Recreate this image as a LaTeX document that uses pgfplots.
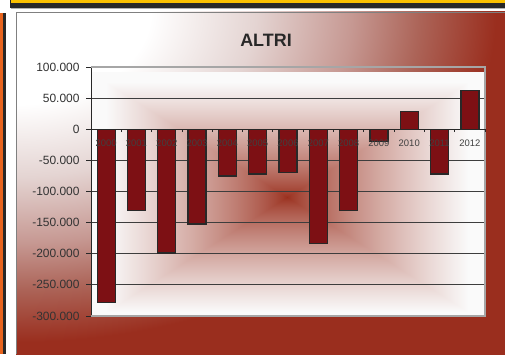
\documentclass[border=0pt]{standalone}
\usepackage{fontspec}
\setmainfont{Liberation Sans}
\usepackage{pgfplots}
\pgfplotsset{compat=1.18}

\definecolor{bgred}{RGB}{154,46,30}
\definecolor{barred}{RGB}{125,16,20}
\definecolor{bandyellow}{RGB}{250,192,0}
\definecolor{bandorange}{RGB}{232,100,30}
\definecolor{inkgray}{RGB}{40,40,40}

% chart background: white in the upper left corner, turning red outwards
% (the shaded path's half size corresponds to 25bp)
\pgfdeclareradialshading{chartglow}{\pgfpointorigin}{%
  color(0bp)=(white);
  color(3.5bp)=(white);
  color(6.25bp)=(rgb,255:red,228;green,212;blue,210);
  color(8.75bp)=(rgb,255:red,198;green,152;blue,146);
  color(10.5bp)=(rgb,255:red,172;green,100;blue,88);
  color(12.5bp)=(bgred);
  color(50bp)=(bgred)}

% plot area: rectangular glow, red in the middle, white at the edges
\pgfdeclarefunctionalshading{plotglow}{\pgfpoint{-50bp}{-50bp}}{\pgfpoint{50bp}{50bp}}{}{%
  abs exch abs
  2 copy sub abs add add 2 div
  25 div 0.92 div
  dup sqrt exch sqrt sqrt mul
  dup 1 sub abs neg add 1 add 2 div
  dup 0.38 mul 0.60 add exch
  dup 0.80 mul 0.18 add exch
  0.87 mul 0.11 add
}

\pgfplotsset{
  plotframe/.style={
    at={(91bp,38bp)}, anchor=south west,
    scale only axis, width=394bp, height=249bp,
    xmin=-0.5, xmax=12.5,
    ymin=-300000, ymax=100000,
    clip=false,
  },
}

\begin{document}
\begin{tikzpicture}[x=1bp,y=1bp]
  \useasboundingbox (0,0) rectangle (505,354);
  \fill[white] (0,0) rectangle (505,354);
  % page bands
  \fill[bandyellow] (11,354) rectangle (505,350.5);
  \fill[inkgray] (10,354) rectangle (11,350.5);
  \fill[inkgray] (10,350.5) rectangle (505,346);
  \draw[gray!60, line width=0.8bp] (11,345.3) -- (505,345.3);
  \fill[bandorange] (0,0) rectangle (2.5,341);
  \fill[inkgray] (2.5,0) rectangle (6,341);

  % chart area
  \begin{scope}
    \clip (16,0) rectangle (505,342);
    \shade[shading=chartglow] (-944,-318) rectangle (976,1002);
  \end{scope}
  \draw[gray, line width=0.8bp] (16.4,0) -- (16.4,341.6) -- (505,341.6);

  % plot area glow
  \begin{scope}
    \clip (91,38) rectangle (485,287);
    \shade[shading=plotglow] (90,32) rectangle (484,282);
  \end{scope}

  \node[font=\bfseries\fontsize{18}{18}\selectfont, text=inkgray] at (266,314) {ALTRI};

  % value axis, grid and bars
  \begin{axis}[
    plotframe,
    axis x line=none, axis y line*=left,
    axis line style={inkgray, line width=0.9bp},
    ytick={-300000,-250000,...,100000},
    scaled y ticks=false,
    yticklabel style={font=\fontsize{12}{12}\selectfont, text=black!80, xshift=-3bp,
      /pgf/number format/.cd, fixed, 1000 sep={.}, assume math mode=true},
    ytick align=outside,
    major tick length=5bp,
    y tick style={draw=inkgray, line width=0.8bp},
    ymajorgrids,
    grid style={inkgray!90, line width=0.8bp},
  ]
    \draw[gray!70, line width=1.6bp] (rel axis cs:0,0) -- (rel axis cs:1,0) -- (rel axis cs:1,1) -- (rel axis cs:0,1);
    \addplot[ybar, bar width=18bp, fill=barred, draw=inkgray, line width=1.3bp]
      coordinates {
        (0,-278000) (1,-131000) (2,-199000) (3,-152000) (4,-75000)
        (5,-72000) (6,-69000) (7,-184000) (8,-130000) (9,-20000)
        (10,29000) (11,-72000) (12,62000)
      };
  \end{axis}

  % category axis at zero, drawn over the bars
  \begin{axis}[
    plotframe,
    axis x line*=middle, axis y line=none,
    axis line style={inkgray, line width=0.9bp},
    xtick={0,...,12},
    xticklabels={2000,2001,2002,2003,2004,2005,2006,2007,2008,2009,2010,2011,2012},
    x tick style={draw=none},
    extra x ticks={-0.5,0.5,...,12.5},
    extra x tick labels={},
    extra x tick style={xtick align=outside, major tick length=3bp,
      x tick style={draw=inkgray, line width=0.8bp}},
    xticklabel style={font=\fontsize{9.5}{10}\selectfont, text=black!75, yshift=-7bp},
    ytick=\empty,
  ]
  \end{axis}
\end{tikzpicture}
\end{document}
